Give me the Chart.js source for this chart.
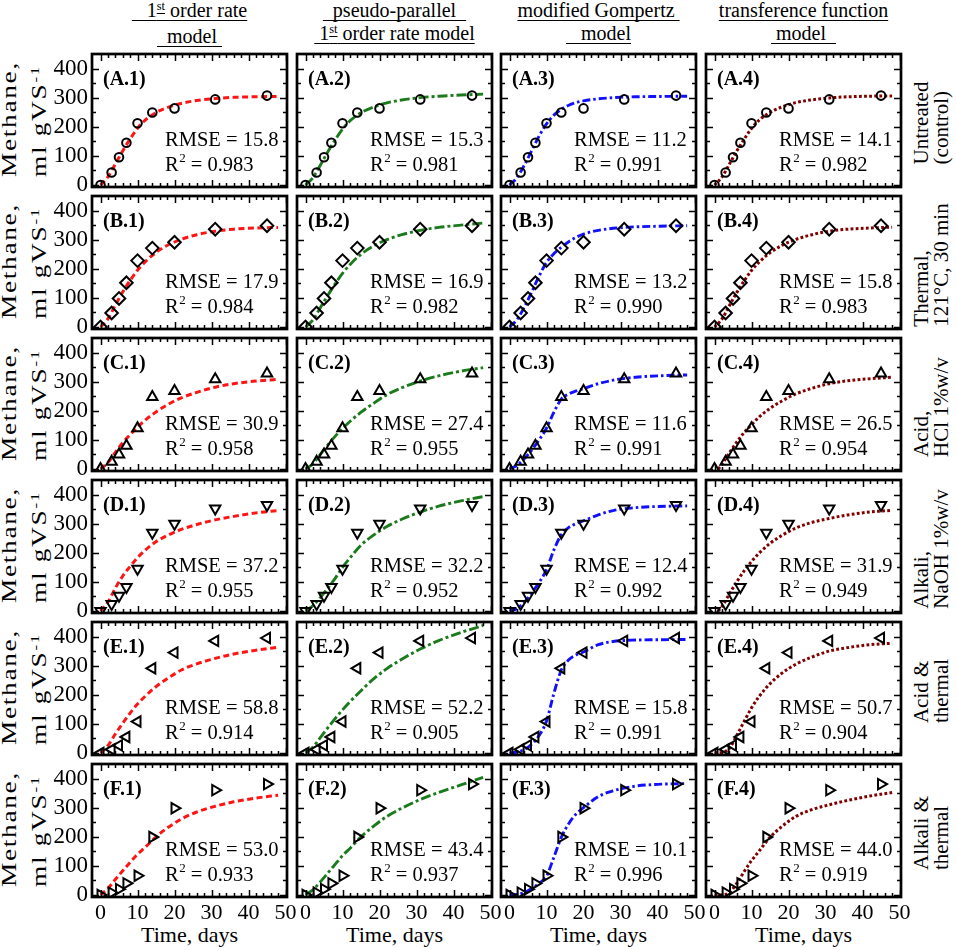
<!DOCTYPE html>
<html><head><meta charset="utf-8">
<script src="https://cdn.jsdelivr.net/npm/chart.js@4.4.1/dist/chart.umd.min.js"></script>
<style>
html,body{margin:0;padding:0;background:#fff}
body{width:957px;height:950px;position:relative;overflow:hidden;font-family:"Liberation Serif","Times New Roman",serif;color:#000}
canvas{position:absolute}
.hdr{position:absolute;top:-1px;font-size:20px;line-height:23px;white-space:nowrap;text-align:center;transform:translateX(-50%)}
.hdr span{text-decoration:underline;text-decoration-thickness:1.4px;text-underline-offset:3px;text-decoration-skip-ink:none}
.sup{font-size:0.62em;position:relative;top:-0.55em;vertical-align:baseline}
.rot{position:absolute;width:0;height:0}
.rot>div{position:absolute;left:0;top:0;transform:translate(-50%,-50%);white-space:nowrap;text-align:left}
.xt{position:absolute;font-size:22px;line-height:24px;white-space:nowrap;transform:translate(-50%,-50%)}
</style></head><body>
<script>
// ---------- data ----------
const days = [0, 3, 5, 7, 10, 14, 20, 31, 45];
const untreated     = [0, 43, 95, 145, 212, 249, 263, 294, 307];
const thermal       = [0, 48, 98, 152, 228, 271, 291, 336, 348];
const acid          = [0, 25, 50, 80, 140, 247, 268, 308, 328];
const alkali        = [0, 24, 52, 82, 145, 269, 300, 352, 364];
const acidThermal   = [0, 12, 26, 55, 108, 291, 345, 385, 395];
const alkaliThermal = [0, 8, 20, 40, 66, 199, 298, 360, 381];

const tFirst   = [0, 2, 4, 6, 8, 10, 12, 15, 18, 22, 26, 31, 36, 42, 48];
const tGomp    = [0, 2, 4, 6, 8, 10, 12, 14, 16, 18, 20, 24, 28, 34, 40, 48];
const tTransCD = [1, 2, 4, 6, 8, 10, 12, 15, 18, 22, 26, 31, 36, 42, 48];
const tTransEF = [0, 2, 3, 4, 6, 8, 10, 12, 15, 18, 22, 26, 31, 36, 42, 48];

const fitA1 = [0, 28, 72, 117, 158, 195, 222, 249, 266, 281, 290, 297, 301, 303, 304];
const fitA2 = [0, 25, 68, 113, 155, 192, 220, 248, 266, 282, 292, 300, 305, 309, 312];
const fitA3 = [0, 25, 68, 118, 168, 210, 240, 260, 274, 283, 289, 296, 300, 303, 304, 305];
const fitA4 = [0, 27, 71, 116, 157, 194, 222, 249, 267, 283, 292, 299, 303, 305, 306];
const fitB1 = [0, 28, 75, 120, 160, 195, 223, 256, 280, 302, 317, 329, 336, 340, 342];
const fitB2 = [0, 24, 66, 108, 148, 184, 214, 250, 276, 300, 317, 332, 342, 350, 357];
const fitB3 = [0, 25, 68, 120, 175, 222, 252, 274, 293, 308, 319, 332, 339, 344, 346, 348];
const fitB4 = [0, 27, 73, 118, 158, 194, 222, 255, 279, 301, 316, 329, 336, 340, 343];
const fitC1 = [0, 22, 57, 90, 118, 144, 167, 196, 220, 245, 263, 281, 293, 302, 308];
const fitC2 = [0, 17, 50, 82, 112, 139, 163, 195, 222, 255, 279, 302, 320, 336, 348];
const fitC3 = [0, 12, 35, 65, 100, 140, 195, 240, 258, 268, 276, 293, 305, 315, 320, 323];
const fitC4 = [0, 15, 55, 92, 125, 152, 178, 208, 232, 258, 276, 293, 303, 310, 315];
const fitD1 = [0, 30, 78, 120, 153, 183, 208, 238, 259, 281, 297, 313, 325, 337, 345];
const fitD2 = [0, 18, 46, 78, 112, 150, 182, 226, 257, 290, 315, 340, 360, 378, 393];
const fitD3 = [0, 8, 30, 62, 98, 142, 210, 262, 287, 300, 310, 330, 345, 355, 359, 361];
const fitD4 = [0, 15, 58, 100, 138, 170, 198, 232, 258, 285, 303, 318, 330, 340, 346];
const fitE1 = [0, 25, 65, 102, 137, 168, 194, 228, 255, 286, 306, 325, 340, 353, 363];
const fitE2 = [0, 20, 53, 86, 118, 148, 176, 214, 250, 290, 322, 357, 386, 414, 438];
const fitE3 = [0, 3, 12, 30, 60, 110, 205, 285, 320, 337, 347, 372, 383, 388, 389, 390];
const fitE4 = [0, 2, 6, 15, 60, 108, 155, 193, 238, 272, 305, 328, 350, 362, 372, 377];
const fitF1 = [0, 22, 53, 83, 112, 140, 163, 200, 230, 262, 285, 305, 320, 333, 343];
const fitF2 = [0, 18, 45, 75, 105, 135, 160, 200, 232, 270, 298, 328, 352, 378, 404];
const fitF3 = [0, 2, 8, 22, 40, 65, 130, 198, 245, 278, 300, 338, 358, 374, 380, 383];
const fitF4 = [0, 0, 2, 8, 40, 80, 118, 150, 198, 233, 270, 292, 310, 325, 340, 352];

const rmseVals = [
  ['15.8', '15.3', '11.2', '14.1'],
  ['17.9', '16.9', '13.2', '15.8'],
  ['30.9', '27.4', '11.6', '26.5'],
  ['37.2', '32.2', '12.4', '31.9'],
  ['58.8', '52.2', '15.8', '50.7'],
  ['53.0', '43.4', '10.1', '44.0']
];
const r2Vals = [
  ['0.983', '0.981', '0.991', '0.982'],
  ['0.984', '0.982', '0.990', '0.983'],
  ['0.958', '0.955', '0.991', '0.954'],
  ['0.955', '0.952', '0.992', '0.949'],
  ['0.914', '0.905', '0.991', '0.904'],
  ['0.933', '0.937', '0.996', '0.919']
];
const rowKeys = ['A', 'B', 'C', 'D', 'E', 'F'];
const rowLabels = [['Untreated', '(control)'], ['Thermal,', '121°C, 30 min'], ['Acid,', 'HCl 1%w/v'],
                   ['Alkali,', 'NaOH 1%w/v'], ['Acid &amp;', 'thermal'], ['Alkali &amp;', 'thermal']];
const colTitles = [
  ['&nbsp;&nbsp;&nbsp;1<span class="sup">st</span> order rate', '&nbsp;&nbsp;model&nbsp;'],
  ['&nbsp;&nbsp;pseudo-parallel&nbsp;&nbsp;', '&nbsp;1<span class="sup">st</span> order rate model'],
  ['modified Gompertz&nbsp;', '&nbsp;&nbsp;&nbsp;model'],
  ['transference function', '&nbsp;model&nbsp;&nbsp;']
];
const xTickValues = [0, 10, 20, 30, 40, 50];
const yTickValues = [0, 100, 200, 300, 400];

// ---------- assembly ----------
const measured = [untreated, thermal, acid, alkali, acidThermal, alkaliThermal];
const fits = [
  [[tFirst, fitA1], [tFirst, fitA2], [tGomp, fitA3], [tFirst, fitA4]],
  [[tFirst, fitB1], [tFirst, fitB2], [tGomp, fitB3], [tFirst, fitB4]],
  [[tFirst, fitC1], [tFirst, fitC2], [tGomp, fitC3], [tTransCD, fitC4]],
  [[tFirst, fitD1], [tFirst, fitD2], [tGomp, fitD3], [tTransCD, fitD4]],
  [[tFirst, fitE1], [tFirst, fitE2], [tGomp, fitE3], [tTransEF, fitE4]],
  [[tFirst, fitF1], [tFirst, fitF2], [tGomp, fitF3], [tTransEF, fitF4]]
];
const markerStyle = [
  {style: 'circle', rot: 0, r: 4.3},
  {style: 'rectRot', rot: 0, r: 6.3},
  {style: 'triangle', rot: 0, r: 6},
  {style: 'triangle', rot: 180, r: 6},
  {style: 'triangle', rot: 270, r: 6},
  {style: 'triangle', rot: 90, r: 6}
];
const lineStyle = [
  {color: '#ff1414', dash: [6, 3.5], width: 3},
  {color: '#1b7a1b', dash: [10, 3, 3, 3], width: 2.9},
  {color: '#1010ff', dash: [8, 3, 2.5, 3], width: 2.9},
  {color: '#800000', dash: [2.8, 2.3], width: 3}
];

const FONT = '"Liberation Serif", "Times New Roman", serif';
const colLeft = [92, 297, 501, 706];
const rowTop = [54, 196, 338, 480, 622, 764];
const PW = 195, PH = 133;
const PADL = 60, PADT = 20, PADR = 18, PADB = 56;

const panelPlugin = {
  id: 'panel',
  afterDraw(chart, args, o) {
    const ctx = chart.ctx, a = chart.chartArea;
    const xs = chart.scales.x, ys = chart.scales.y;
    ctx.save();
    ctx.strokeStyle = '#000';
    ctx.lineWidth = 1.5;
    ctx.setLineDash([]);
    ctx.beginPath();
    xs.ticks.forEach(t => {
      if (t.value < 0 || t.value > 50) return;
      const p = Math.round(xs.getPixelForValue(t.value)) + 0.5;
      const len = t.value % 10 === 0 ? 7 : 4;
      ctx.moveTo(p, a.bottom); ctx.lineTo(p, a.bottom - len);
      ctx.moveTo(p, a.top); ctx.lineTo(p, a.top + len);
    });
    ys.ticks.forEach(t => {
      if (t.value < 0 || t.value >= 450) return;
      const p = Math.round(ys.getPixelForValue(t.value)) + 0.5;
      const len = t.value % 100 === 0 ? 7 : 4;
      ctx.moveTo(a.left, p); ctx.lineTo(a.left + len, p);
      ctx.moveTo(a.right, p); ctx.lineTo(a.right - len, p);
    });
    ctx.stroke();
    ctx.lineWidth = 2.7;
    ctx.strokeRect(a.left, a.top, a.right - a.left, a.bottom - a.top);

    ctx.fillStyle = '#000';
    ctx.textAlign = 'left';
    ctx.textBaseline = 'middle';
    ctx.font = 'bold 20px ' + FONT;
    ctx.fillText(o.label, a.left + 11, a.top + 26);
    ctx.font = '20.5px ' + FONT;
    const tx = a.left + 73;
    ctx.fillText('RMSE = ' + o.rmse, tx, a.top + 87);
    let x = tx;
    ctx.fillText('R', x, a.top + 112);
    x += ctx.measureText('R').width;
    ctx.font = '13px ' + FONT;
    ctx.fillText('2', x + 0.5, a.top + 105);
    x += ctx.measureText('2').width + 0.5;
    ctx.font = '20.5px ' + FONT;
    ctx.fillText(' = ' + o.r2, x, a.top + 112);
    ctx.restore();
  }
};

function addHTML(html) {
  const d = document.createElement('div');
  d.innerHTML = html;
  while (d.firstChild) document.body.appendChild(d.firstChild);
}

// column titles
colTitles.forEach((t, c) => {
  const cx = colLeft[c] + PW / 2;
  addHTML(`<div class="hdr" style="left:${cx}px"><span>${t[0]}</span><br><span>${t[1]}</span></div>`);
  addHTML(`<div class="xt" style="left:${cx}px;top:935px">Time, days</div>`);
});

// row labels
rowKeys.forEach((k, r) => {
  const cy = rowTop[r] + PH / 2;
  addHTML(`<div class="rot" style="left:25px;top:${cy - 2}px;transform:rotate(-90deg) scaleX(1.3)"><div style="font-size:21px;line-height:30px;letter-spacing:1.3px">Methane,<br>ml gVS<span class="sup">-1</span></div></div>`);
  addHTML(`<div class="rot" style="left:931px;top:${cy + 2}px;transform:rotate(-90deg)"><div style="font-size:21px;line-height:20px">${rowLabels[r][0]}<br>${rowLabels[r][1]}</div></div>`);
});

// panels
rowKeys.forEach((k, r) => {
  for (let c = 0; c < 4; c++) {
    const cv = document.createElement('canvas');
    const W = PADL + PW + PADR, H = PADT + PH + PADB;
    cv.width = W; cv.height = H;
    cv.style.width = W + 'px'; cv.style.height = H + 'px';
    cv.style.left = (colLeft[c] - PADL) + 'px';
    cv.style.top = (rowTop[r] - PADT) + 'px';
    document.body.appendChild(cv);
    const [fx, fy] = fits[r][c];
    const curve = fx.map((t, i) => ({x: t, y: fy[i]}));
    const obs = days.map((t, i) => ({x: t, y: measured[r][i]}));
    const ls = lineStyle[c], ms = markerStyle[r];
    const isLeft = c === 0, isBottom = r === rowKeys.length - 1;
    new Chart(cv, {
      type: 'scatter',
      data: {datasets: [
        {data: obs, showLine: false, pointStyle: ms.style, pointRotation: ms.rot, pointRadius: ms.r,
         pointBorderWidth: 2, pointBorderColor: '#000', pointBackgroundColor: 'rgba(0,0,0,0)', order: 0},
        {data: curve, showLine: true, borderColor: ls.color, borderWidth: ls.width, borderDash: ls.dash,
         pointRadius: 0, cubicInterpolationMode: 'monotone', fill: false, order: 1}
      ]},
      options: {
        responsive: false, maintainAspectRatio: false, animation: false, events: [],
        layout: {padding: {left: 0, top: PADT, right: PADR, bottom: 0}},
        plugins: {legend: {display: false}, tooltip: {enabled: false},
          panel: {label: `(${k}.${c + 1})`, rmse: rmseVals[r][c], r2: r2Vals[r][c]}},
        scales: {
          x: {type: 'linear', min: -2.3, max: 50.4,
              afterFit: s => { s.height = PADB; },
              grid: {display: false, drawTicks: false}, border: {display: false},
              ticks: {display: isBottom, stepSize: 2, includeBounds: false, autoSkip: false, maxRotation: 0,
                      padding: 3, color: '#000', font: {family: FONT, size: 22},
                      callback: v => xTickValues.includes(v) ? String(v) : ''}},
          y: {type: 'linear', min: -7, max: 450,
              afterFit: s => { s.width = PADL; },
              grid: {display: false, drawTicks: false}, border: {display: false},
              ticks: {display: isLeft, stepSize: 50, includeBounds: false, autoSkip: false,
                      padding: 4, color: '#000', font: {family: FONT, size: 23},
                      callback: v => yTickValues.includes(v) ? String(v) : ''}}
        }
      },
      plugins: [panelPlugin]
    });
  }
});
</script>
</body></html>
